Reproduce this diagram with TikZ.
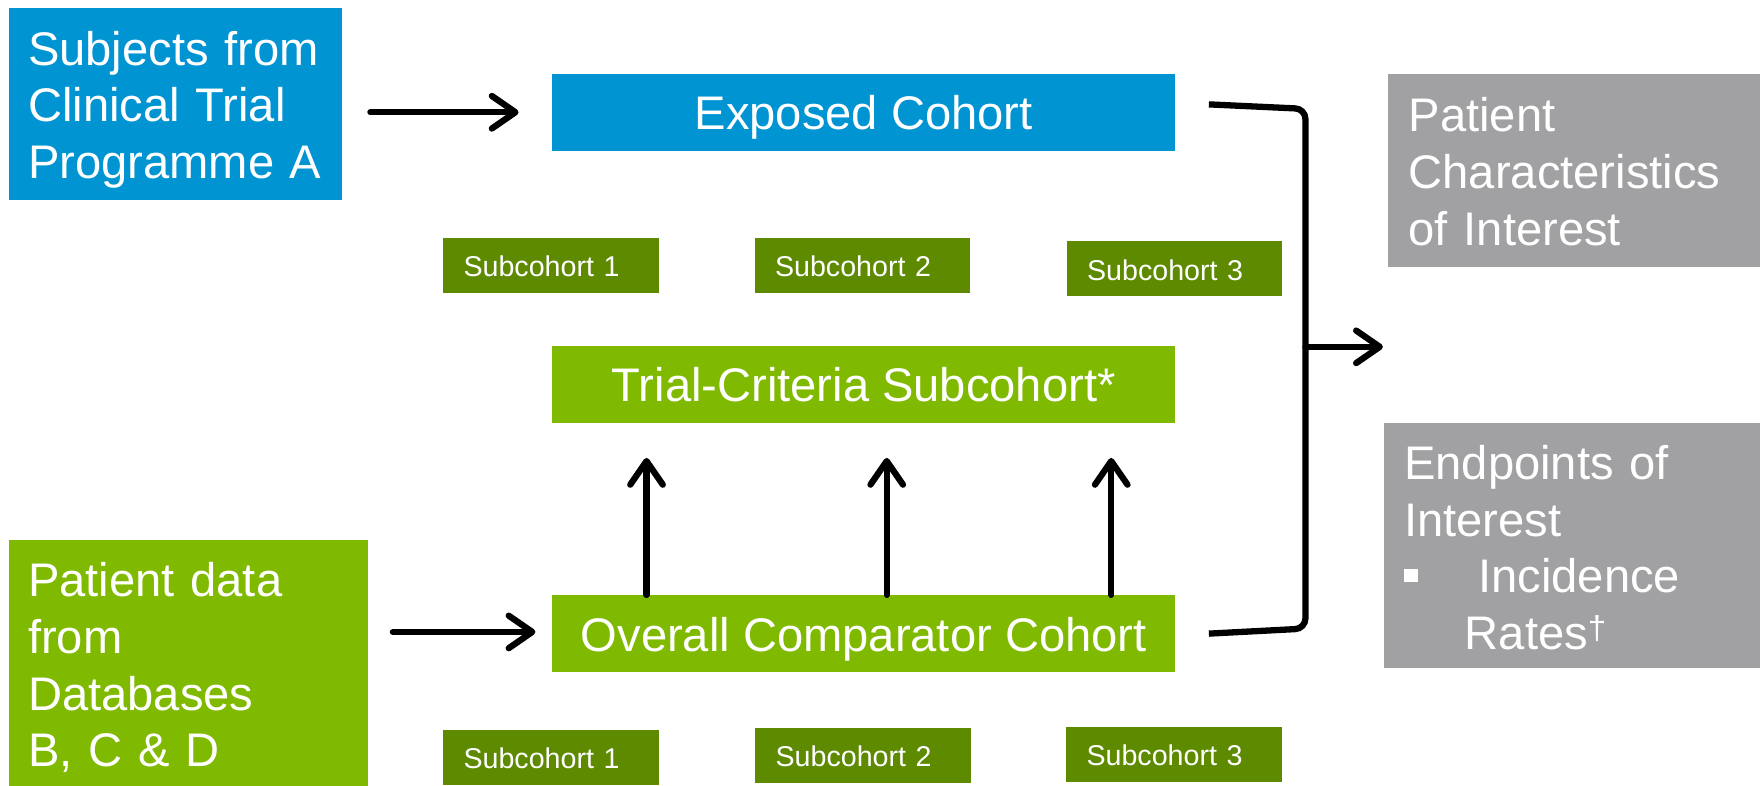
\documentclass[tikz,border=0pt]{standalone}
\usepackage{fontspec}
\setmainfont{Liberation Sans}
\usetikzlibrary{arrows.meta,calc}

\definecolor{srcblue}{RGB}{0,148,210}
\definecolor{lightgreen}{RGB}{127,186,0}
\definecolor{darkgreen}{RGB}{94,138,0}
\definecolor{panelgrey}{RGB}{161,161,163}

\begin{document}
\begin{tikzpicture}[x=1pt,y=-1pt,
  bigfont/.style={font=\fontsize{42}{50.5}\selectfont},
  threelines/.style={text height=31pt, text depth=100pt},
  fourlines/.style={text height=31pt, text depth=148.5pt},
  srcbox/.style={bigfont, text=white, inner xsep=17pt, inner ysep=0pt, outer sep=0pt, align=left},
  cohort/.style={bigfont, text=white, inner sep=0pt, outer sep=0pt, align=center,
    minimum width=555pt, minimum height=69pt, text height=31pt, text depth=0pt},
  subbox/.style={fill=darkgreen, text=white, font=\fontsize{25.5}{30}\selectfont,
    inner xsep=18pt, inner ysep=0pt, outer sep=0pt, align=left,
    text width=156pt, minimum height=49pt, text height=20pt, text depth=0pt},
  outbox/.style={bigfont, fill=panelgrey, text=white, inner xsep=18pt, inner ysep=0pt,
    outer sep=0pt, align=left},
  arr/.style={line width=5.6pt, line cap=round,
    -{Straight Barb[length=21pt,width=29pt,round]}},
  bracket/.style={line width=5.6pt, rounded corners=9pt}
]
\useasboundingbox (0,0) rectangle (1568,700);

% data sources
\node[srcbox, threelines, fill=srcblue, text width=263pt, minimum height=171pt] (progA) at (156.5,92.5)
  {Subjects from\\Clinical Trial\\Programme A};
\node[srcbox, fourlines, fill=lightgreen, text width=286pt, minimum height=219pt] (dbs) at (168,590.5)
  {Patient data\\from\\Databases\\B, C \& D};

% cohorts
\node[cohort, fill=srcblue] (exposed) at (769.5,100) {Exposed Cohort};
\node[cohort, fill=lightgreen] (trial) at (769.5,342.5) {Trial-Criteria Subcohort*};
\node[cohort, fill=lightgreen] (overall) at (769.5,564.5) {Overall Comparator Cohort};

% subcohorts of the exposed cohort
\node[subbox] (es1) at (491,236.5) {Subcohort 1};
\node[subbox] (es2) at (768.5,236.5) {Subcohort 2};
\node[subbox] (es3) at (1046.5,239.5) {Subcohort 3};

% subcohorts of the comparator cohort
\node[subbox] (cs1) at (491,675) {Subcohort 1};
\node[subbox] (cs2) at (769,673) {Subcohort 2};
\node[subbox] (cs3) at (1046,672) {Subcohort 3};

% outcomes
\node[outbox, threelines, text width=295pt, minimum height=172pt] (chars) at (1402.5,152)
  {Patient\\Characteristics\\of Interest};
\node[outbox, fourlines, text width=299pt, minimum height=218pt] (ends) at (1400.5,486)
  {Endpoints of\\Interest\\\rule[9.5pt]{12pt}{12pt}\hspace{54pt}Incidence\\\hspace*{54pt}Rates\textsuperscript{†}};

% inputs into the cohorts
\draw[arr] ($(progA.east |- exposed.west)+(25,0)$) -- ($(exposed.west)+(-30,0)$);
\draw[arr] ($(dbs.east |- overall.west)+(22,-1.5)$) -- ($(overall.west)+(-15,-1.5)$);

% comparator cohort restricted to trial criteria
\draw[arr] ([xshift=-193.5pt]overall.north) -- ([xshift=-193.5pt,yshift=-31pt]trial.south);
\draw[arr] ([xshift=20.5pt]overall.north) -- ([xshift=20.5pt,yshift=-31pt]trial.south);
\draw[arr] ([xshift=220.5pt]overall.north) -- ([xshift=220.5pt,yshift=-31pt]trial.south);

% bracket joining both cohorts towards the outcomes
\coordinate (brtop) at (1163,97);
\coordinate (brbot) at (1163,560);
\coordinate (brmid) at (1163,309);
\coordinate (goal) at (1232,309);
\draw[bracket] ($(exposed.east)+(30,-7)$) -- (brtop) -- (brbot) -- ($(overall.east)+(30,0)$);
\draw[arr] (brmid) -- (goal);
\end{tikzpicture}
\end{document}
